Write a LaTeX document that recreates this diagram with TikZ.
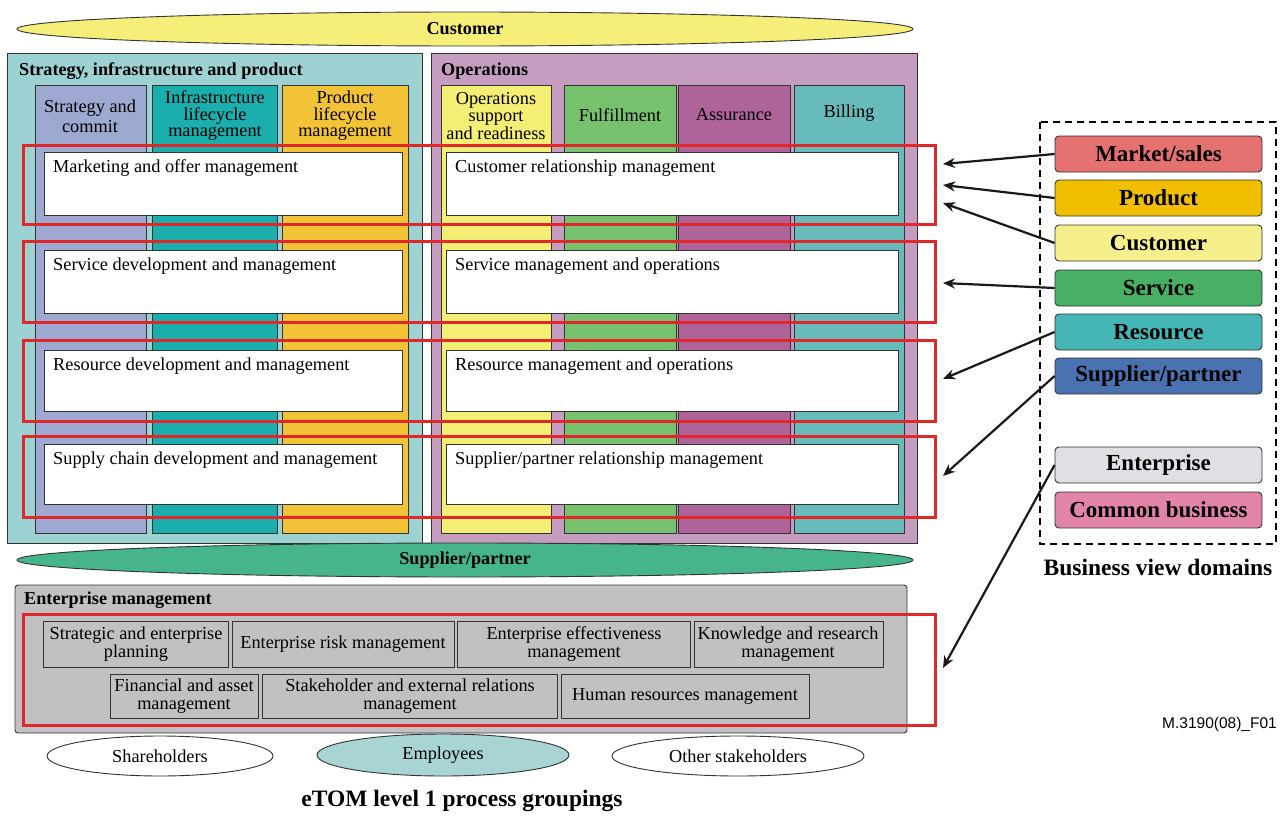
\documentclass[tikz,border=0pt]{standalone}
\usepackage{fontspec}
\setmainfont{Liberation Serif}
\setsansfont{Liberation Sans}
\usetikzlibrary{arrows.meta}

\definecolor{custY}{HTML}{F5EF7A}
\definecolor{stratBg}{HTML}{9DD2D3}
\definecolor{opsBg}{HTML}{C59DC1}
\definecolor{colStrat}{HTML}{9DA9D1}
\definecolor{colInfra}{HTML}{1AAEAD}
\definecolor{colProd}{HTML}{F2C237}
\definecolor{colOps}{HTML}{F5EE74}
\definecolor{colFul}{HTML}{78C26F}
\definecolor{colAss}{HTML}{AE6399}
\definecolor{colBill}{HTML}{68BBBB}
\definecolor{suppG}{HTML}{47B58A}
\definecolor{entBg}{HTML}{C1C1C4}
\definecolor{empBg}{HTML}{A9D4D4}
\definecolor{redF}{HTML}{E0282A}
\definecolor{dMkt}{HTML}{E57171}
\definecolor{dProd}{HTML}{F2BE00}
\definecolor{dCust}{HTML}{F5F08B}
\definecolor{dServ}{HTML}{48B064}
\definecolor{dRes}{HTML}{46B5B5}
\definecolor{dSup}{HTML}{4A72B0}
\definecolor{dEnt}{HTML}{DFE0E3}
\definecolor{dCom}{HTML}{E284A7}

\tikzset{
  box/.style={draw=black!80,line width=0.9pt},
  frm/.style={draw=redF,line width=3pt},
  txt/.style={font=\fontsize{18.3}{16.5}\selectfont,inner sep=0pt},
  ttl/.style={font=\fontsize{18.2}{19}\selectfont\bfseries,inner sep=0pt},
  dombox/.style={draw=black!80,line width=0.9pt,rounded corners=4pt,minimum width=207pt,
    minimum height=36pt,inner sep=0pt,font=\fontsize{23}{24}\selectfont\bfseries},
  arr/.style={-{Stealth[length=12pt,width=10pt]},line width=2.2pt,draw=black!90}
}

\begin{document}
\begin{tikzpicture}[x=1pt,y=-1pt]
  \useasboundingbox (0,0) rectangle (1280,816);

  % customer and supplier bands
  \filldraw[box,fill=custY] (465,29) ellipse (448 and 17);
  \node[ttl] (cust) at (465,29) {Customer};

  % strategy, infrastructure and product
  \filldraw[box,fill=stratBg] (7,53) rectangle (422,543);
  \node[ttl,anchor=west] (sipT) at (19,71) {Strategy, infrastructure and product};
  \filldraw[box,fill=colStrat] (35,85) rectangle (146,533);
  \filldraw[box,fill=colInfra] (152,85) rectangle (277,533);
  \filldraw[box,fill=colProd] (282,85) rectangle (408,533);
  \node[txt,align=center,font=\fontsize{18.3}{20}\selectfont] (scH) at (90,116) {Strategy and\\commit};
  \node[txt,align=center] (ilH) at (215,116) {Infrastructure\\lifecycle\\management};
  \node[txt,align=center] (plH) at (345,116) {Product\\lifecycle\\management};

  % operations
  \filldraw[box,fill=opsBg] (431,53) rectangle (917,543);
  \node[ttl,anchor=west] (opsT) at (441,71) {Operations};
  \filldraw[box,fill=colOps] (441,85) rectangle (551,533);
  \filldraw[box,fill=colFul] (564,85) rectangle (676,533);
  \filldraw[box,fill=colAss] (678,85) rectangle (790,533);
  \filldraw[box,fill=colBill] (794,85) rectangle (904,533);
  \node[txt,align=center] (osH) at (496,116) {Operations\\support\\and readiness};
  \node[txt] (fuH) at (620,115) {Fulfillment};
  \node[txt] (asH) at (734,115) {Assurance};
  \node[txt] (biH) at (849,113) {Billing};

  % horizontal process rows
  \foreach \yt/\yb/\lt/\rt [count=\i] in {
      152/215/{Marketing and offer management}/{Customer relationship management},
      250/313/{Service development and management}/{Service management and operations},
      350/411/{Resource development and management}/{Resource management and operations},
      444/504/{Supply chain development and management}/{Supplier/partner relationship management}}{
    \filldraw[box,fill=white] (44,\yt) rectangle (402,\yb);
    \filldraw[box,fill=white] (446,\yt) rectangle (898,\yb);
    \node[txt,anchor=base west] (rowL\i) at (53,\yt+20.5) {\lt};
    \node[txt,anchor=base west] (rowR\i) at (455,\yt+20.5) {\rt};
  }
  \draw[frm] (23,145) rectangle (935,224);
  \draw[frm] (23,241) rectangle (935,322);
  \draw[frm] (23,340) rectangle (935,421);
  \draw[frm] (23,436) rectangle (935,517);

  \filldraw[box,fill=suppG] (465,560) ellipse (448 and 17);
  \node[ttl] (supp) at (465,560) {Supplier/partner};

  % enterprise management
  \filldraw[box,fill=entBg,rounded corners=3pt] (15,585) rectangle (907,733);
  \node[ttl,anchor=west] (entT) at (24,600) {Enterprise management};
  \filldraw[box,fill=entBg] (43,621) rectangle (228,667);
  \filldraw[box,fill=entBg] (232,621) rectangle (454,667);
  \filldraw[box,fill=entBg] (457,621) rectangle (690,667);
  \filldraw[box,fill=entBg] (694,621) rectangle (883,667);
  \filldraw[box,fill=entBg] (110,674) rectangle (258,718);
  \filldraw[box,fill=entBg] (262,674) rectangle (557,718);
  \filldraw[box,fill=entBg] (561,674) rectangle (809,718);
  \tikzset{txt/.append style={font=\fontsize{18.3}{18}\selectfont}}
  \node[txt,align=center] (sep) at (136,644) {Strategic and enterprise\\planning};
  \node[txt] (erm) at (343,644) {Enterprise risk management};
  \node[txt,align=center] (eem) at (574,644) {Enterprise effectiveness\\management};
  \node[txt,align=center] (krm) at (788,644) {Knowledge and research\\management};
  \node[txt,align=center] (fam) at (184,696) {Financial and asset\\management};
  \node[txt,align=center] (ser) at (410,696) {Stakeholder and external relations\\management};
  \node[txt] (hrm) at (685,696) {Human resources management};
  \draw[frm] (23,614) rectangle (935,725);

  % stakeholders
  \draw[box,fill=white] (160,756) ellipse (113 and 20);
  \draw[box,fill=empBg] (443,755) ellipse (126 and 21);
  \draw[box,fill=white] (738,756) ellipse (126 and 20);
  \node[txt] (shr) at (160,756) {Shareholders};
  \node[txt] (emp) at (443,755) {Employees};
  \node[txt] (oth) at (738,756) {Other stakeholders};
  \node[font=\fontsize{23.5}{25}\selectfont\bfseries,inner sep=0pt] (etom) at (462,801) {eTOM level 1 process groupings};

  % business view domains
  \draw[line width=1.8pt,dash pattern=on 7pt off 5pt] (1040,122) rectangle (1276,544);
  \node[dombox,fill=dMkt] (mkt) at (1158.5,154) {Market/sales};
  \node[dombox,fill=dProd] (prd) at (1158.5,198) {Product};
  \node[dombox,fill=dCust] (cus) at (1158.5,243) {Customer};
  \node[dombox,fill=dServ] (srv) at (1158.5,288) {Service};
  \node[dombox,fill=dRes] (res) at (1158.5,332) {Resource};
  \node[dombox,fill=dSup] (sup) at (1158.5,376) {Supplier/partner};
  \node[dombox,fill=dEnt] (ent) at (1158.5,465) {Enterprise};
  \node[dombox,fill=dCom] (com) at (1158.5,510) {Common business};
  \node[font=\fontsize{23.5}{25}\selectfont\bfseries,inner sep=0pt] (bvd) at (1158,567) {Business view domains};
  \node[font=\sffamily\fontsize{15.5}{16}\selectfont,inner sep=0pt,anchor=east] (fig) at (1277,724) {M.3190(08)\_F01};

  \coordinate (tMkt) at (943,164);
  \coordinate (tPrd) at (943,185);
  \coordinate (tCus) at (943,203);
  \coordinate (tSrv) at (943,283);
  \coordinate (tRes) at (943,379);
  \coordinate (tSup) at (943,476);
  \coordinate (tEnt) at (943,668);
  \draw[arr] (mkt.west) -- (tMkt);
  \draw[arr] (prd.west) -- (tPrd);
  \draw[arr] (cus.west) -- (tCus);
  \draw[arr] (srv.west) -- (tSrv);
  \draw[arr] (res.west) -- (tRes);
  \draw[arr] (sup.west) -- (tSup);
  \draw[arr] (ent.west) -- (tEnt);
\end{tikzpicture}
\end{document}
